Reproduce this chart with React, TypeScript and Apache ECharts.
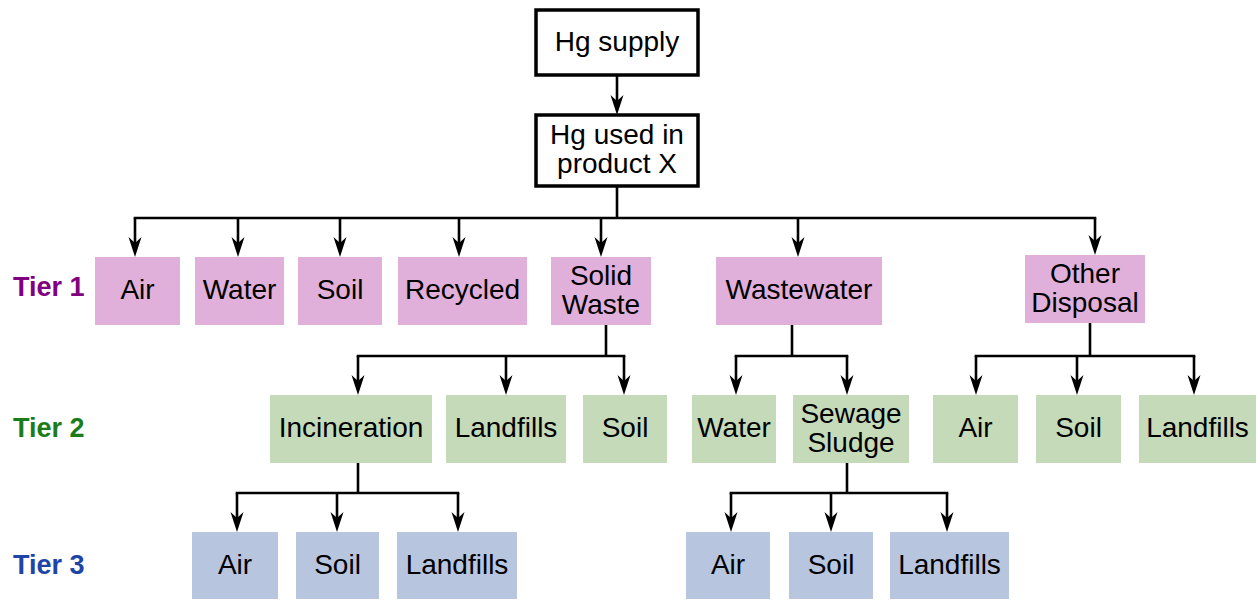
import React, { useEffect, useRef } from "react";
import * as echarts from "echarts";

// ---- Data (labels) ----
const rootLabels = ["Hg supply", "Hg used in\nproduct X"];
const tierNames = ["Tier 1", "Tier 2", "Tier 3"];
const tier1Labels = ["Air", "Water", "Soil", "Recycled", "Solid\nWaste", "Wastewater", "Other\nDisposal"];
const solidWasteChildren = ["Incineration", "Landfills", "Soil"];
const wastewaterChildren = ["Water", "Sewage\nSludge"];
const otherDisposalChildren = ["Air", "Soil", "Landfills"];
const incinerationChildren = ["Air", "Soil", "Landfills"];
const sludgeChildren = ["Air", "Soil", "Landfills"];

// ---- Layout (geometry only) ----
type Box = { x0: number; x1: number; y0: number; y1: number; ax: number };
const rootBoxes: Box[] = [
  { x0: 536, x1: 698, y0: 10, y1: 75, ax: 617 },
  { x0: 536, x1: 698, y0: 115, y1: 186, ax: 617 },
];
const tier1Boxes: Box[] = [
  { x0: 95, x1: 180, y0: 257, y1: 325, ax: 135 },
  { x0: 195, x1: 284, y0: 257, y1: 325, ax: 238 },
  { x0: 298, x1: 382, y0: 257, y1: 325, ax: 340 },
  { x0: 398, x1: 527, y0: 257, y1: 325, ax: 459 },
  { x0: 551, x1: 651, y0: 257, y1: 325, ax: 601 },
  { x0: 716, x1: 882, y0: 257, y1: 325, ax: 798 },
  { x0: 1025, x1: 1145, y0: 255, y1: 323, ax: 1095 },
];
const solidWasteBoxes: Box[] = [
  { x0: 270, x1: 432, y0: 395, y1: 463, ax: 358 },
  { x0: 446, x1: 566, y0: 395, y1: 463, ax: 506 },
  { x0: 583, x1: 667, y0: 395, y1: 463, ax: 624 },
];
const wastewaterBoxes: Box[] = [
  { x0: 692, x1: 776, y0: 395, y1: 463, ax: 736 },
  { x0: 793, x1: 909, y0: 395, y1: 463, ax: 847 },
];
const otherBoxes: Box[] = [
  { x0: 933, x1: 1018, y0: 395, y1: 463, ax: 976 },
  { x0: 1036, x1: 1121, y0: 395, y1: 463, ax: 1077 },
  { x0: 1139, x1: 1256, y0: 395, y1: 463, ax: 1194 },
];
const incinerationBoxes: Box[] = [
  { x0: 192, x1: 278, y0: 532, y1: 599, ax: 237 },
  { x0: 296, x1: 379, y0: 532, y1: 599, ax: 337 },
  { x0: 397, x1: 517, y0: 532, y1: 599, ax: 458 },
];
const sludgeBoxes: Box[] = [
  { x0: 686, x1: 770, y0: 532, y1: 599, ax: 731 },
  { x0: 789, x1: 873, y0: 532, y1: 599, ax: 831 },
  { x0: 890, x1: 1009, y0: 532, y1: 599, ax: 947 },
];
const tierLabelY = [287, 428, 565];

const FONT = "'Liberation Sans', Arial, Helvetica, sans-serif";
const TIER_FILL = ["#E0B0DA", "#C5DAB8", "#B8C5DE"];
const TIER_LABEL_COLOR = ["#800080", "#1A7D1A", "#1D44A6"];
const LINE = "#000000";
const LW = 2.6;

function arrow(x: number, y0: number, yTip: number): any[] {
  const headLen = 20;
  const notch = 6;
  const half = 6.5;
  return [
    { type: "line", shape: { x1: x, y1: y0, x2: x, y2: yTip - headLen + notch + 1 }, style: { stroke: LINE, lineWidth: LW } },
    {
      type: "polygon",
      shape: { points: [[x, yTip], [x - half, yTip - headLen], [x, yTip - headLen + notch], [x + half, yTip - headLen]] },
      style: { fill: LINE },
    },
  ];
}

function boxEls(labels: string[], boxes: Box[], fill: string, outlined = false): any[] {
  const els: any[] = [];
  labels.forEach((t, i) => {
    const b = boxes[i];
    els.push({
      type: "rect",
      shape: { x: b.x0, y: b.y0, width: b.x1 - b.x0, height: b.y1 - b.y0 },
      style: outlined ? { fill: "#fff", stroke: "#000", lineWidth: 3.5 } : { fill },
    });
    els.push({
      type: "text",
      x: (b.x0 + b.x1) / 2,
      y: (b.y0 + b.y1) / 2 - 1.5,
      style: { text: t, fontSize: 28, fontFamily: FONT, fill: "#000", align: "center", verticalAlign: "middle", lineHeight: 29 },
    });
  });
  return els;
}

function branch(dropX: number, yFrom: number, busY: number, children: Box[]): any[] {
  const xs = children.map((c) => c.ax);
  const minX = Math.min(...xs, dropX);
  const maxX = Math.max(...xs, dropX);
  const els: any[] = [
    { type: "line", shape: { x1: dropX, y1: yFrom, x2: dropX, y2: busY }, style: { stroke: LINE, lineWidth: LW } },
    { type: "line", shape: { x1: minX - LW / 2, y1: busY, x2: maxX + LW / 2, y2: busY }, style: { stroke: LINE, lineWidth: LW } },
  ];
  children.forEach((c) => els.push(...arrow(c.ax, busY, c.y0)));
  return els;
}

export default function App() {
  const ref = useRef<HTMLDivElement>(null);
  useEffect(() => {
    if (!ref.current) return;
    const chart = echarts.init(ref.current, undefined, { renderer: "svg" });
    const elements: any[] = [];
    // root
    elements.push(...boxEls(rootLabels, rootBoxes, "#fff", true));
    elements.push(...arrow(617, 75, 115));
    // tier1
    elements.push(...branch(617, 186, 218, tier1Boxes));
    elements.push(...boxEls(tier1Labels, tier1Boxes, TIER_FILL[0]));
    // tier2
    elements.push(...branch(606, 325, 356, solidWasteBoxes));
    elements.push(...branch(792, 325, 356, wastewaterBoxes));
    elements.push(...branch(1090, 323, 356, otherBoxes));
    elements.push(...boxEls(solidWasteChildren, solidWasteBoxes, TIER_FILL[1]));
    elements.push(...boxEls(wastewaterChildren, wastewaterBoxes, TIER_FILL[1]));
    elements.push(...boxEls(otherDisposalChildren, otherBoxes, TIER_FILL[1]));
    // tier3
    elements.push(...branch(358, 463, 493, incinerationBoxes));
    elements.push(...branch(847, 463, 493, sludgeBoxes));
    elements.push(...boxEls(incinerationChildren, incinerationBoxes, TIER_FILL[2]));
    elements.push(...boxEls(sludgeChildren, sludgeBoxes, TIER_FILL[2]));
    // tier labels
    tierNames.forEach((t, i) => {
      elements.push({
        type: "text",
        x: 13,
        y: tierLabelY[i],
        style: { text: t, fontSize: 27, fontWeight: "bold", fontFamily: FONT, fill: TIER_LABEL_COLOR[i], align: "left", verticalAlign: "middle" },
      });
    });
    chart.setOption({ animation: false, backgroundColor: "#fff", graphic: { elements } });
    return () => chart.dispose();
  }, []);
  return <div ref={ref} style={{ position: "fixed", left: 0, top: 0, width: 1258, height: 600 }} />;
}
